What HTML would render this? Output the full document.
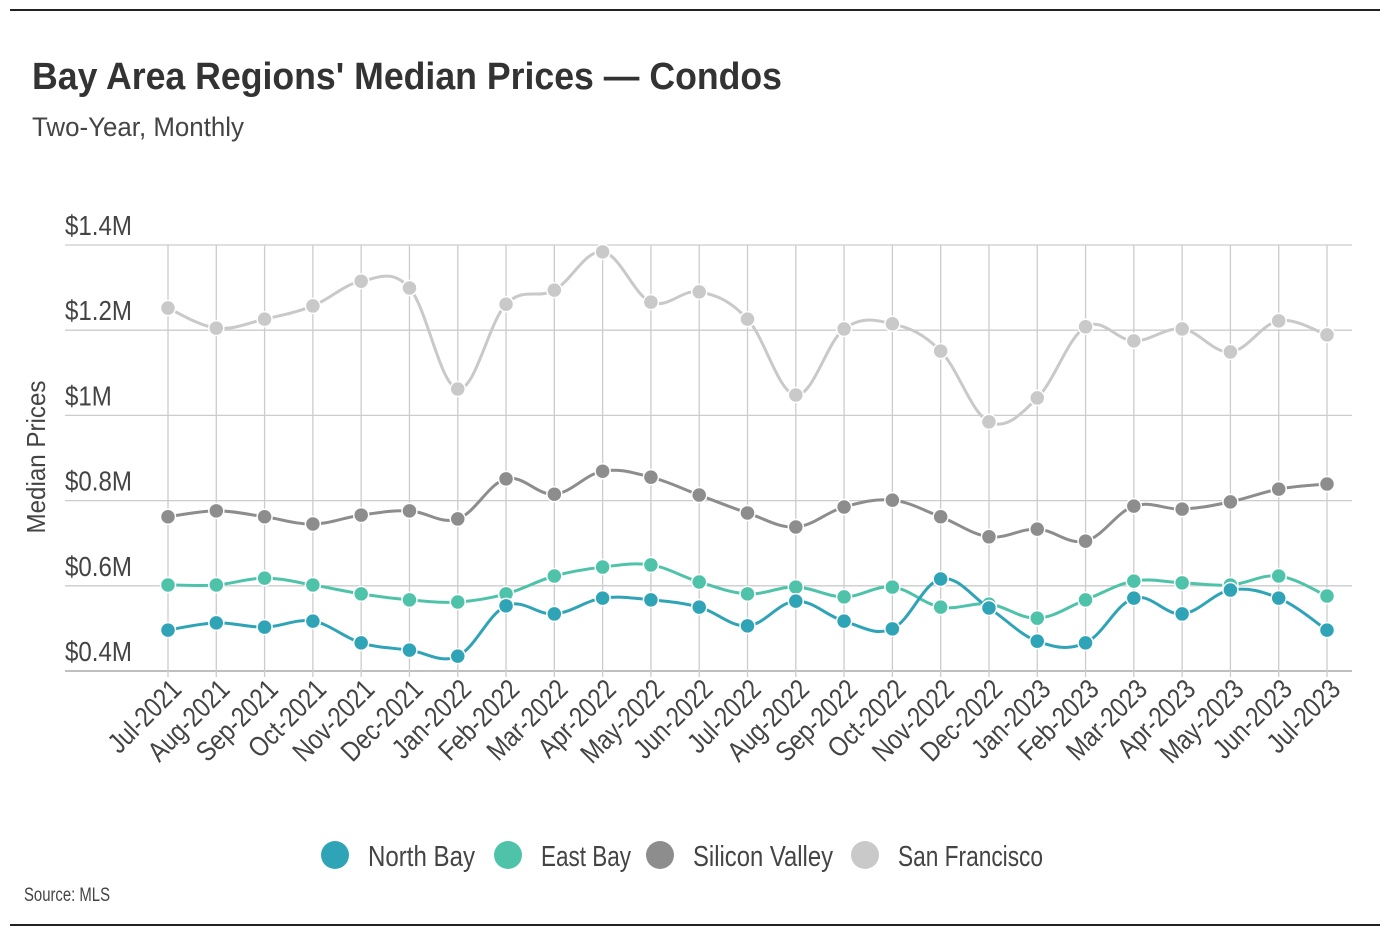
<!DOCTYPE html>
<html><head><meta charset="utf-8"><style>
body{margin:0;background:#fff;}
svg{display:block;font-family:"Liberation Sans Narrow","Liberation Sans",sans-serif;}
</style></head><body>
<svg width="1390" height="934" viewBox="0 0 1390 934">
<line x1="10" y1="10" x2="1380" y2="10" stroke="#222" stroke-width="2"/>
<line x1="10" y1="925" x2="1380" y2="925" stroke="#222" stroke-width="2"/>
<text x="32" y="89" font-size="38" font-weight="bold" fill="#333" textLength="750" lengthAdjust="spacingAndGlyphs">Bay Area Regions' Median Prices — Condos</text>
<text x="32" y="136" font-size="27" fill="#444" textLength="212" lengthAdjust="spacingAndGlyphs">Two-Year, Monthly</text>
<text transform="translate(45,457) rotate(-90)" text-anchor="middle" font-size="26" fill="#444" textLength="153" lengthAdjust="spacingAndGlyphs">Median Prices</text>
<text x="24" y="901" font-size="19" fill="#444" textLength="86" lengthAdjust="spacingAndGlyphs">Source:  MLS</text>
<g id="grid"></g><g id="series"></g><g id="xlabels"></g><g id="legend"></g>
</svg>
<script>
const categories=["Jul-2021","Aug-2021","Sep-2021","Oct-2021","Nov-2021","Dec-2021","Jan-2022","Feb-2022","Mar-2022","Apr-2022","May-2022","Jun-2022","Jul-2022","Aug-2022","Sep-2022","Oct-2022","Nov-2022","Dec-2022","Jan-2023","Feb-2023","Mar-2023","Apr-2023","May-2023","Jun-2023","Jul-2023"];
const northBay=[0.496,0.513,0.503,0.517,0.466,0.449,0.435,0.553,0.534,0.571,0.567,0.550,0.506,0.564,0.517,0.499,0.616,0.548,0.470,0.466,0.571,0.534,0.590,0.571,0.496];
const eastBay=[0.602,0.602,0.618,0.602,0.581,0.567,0.562,0.581,0.623,0.644,0.649,0.609,0.581,0.597,0.574,0.597,0.550,0.557,0.524,0.567,0.611,0.607,0.602,0.623,0.576];
const siliconValley=[0.762,0.776,0.762,0.745,0.766,0.776,0.757,0.851,0.815,0.869,0.855,0.813,0.771,0.738,0.785,0.801,0.762,0.715,0.733,0.705,0.787,0.780,0.797,0.827,0.839];
const sanFrancisco=[1.252,1.205,1.226,1.257,1.315,1.299,1.062,1.261,1.294,1.384,1.266,1.290,1.226,1.048,1.203,1.215,1.151,0.985,1.041,1.208,1.175,1.203,1.149,1.222,1.189];
const yTicks=[0.4,0.6,0.8,1.0,1.2,1.4];
const yTickLabels=["$0.4M","$0.6M","$0.8M","$1M","$1.2M","$1.4M"];
const seriesNames=["North Bay","East Bay","Silicon Valley","San Francisco"];
const seriesColors=["#2fa4b6","#4fc3aa","#8d8d8d","#c9c9c9"];
const NS="http://www.w3.org/2000/svg";
const X0=168,X1=1327,Y0=671,Y1=245,VMIN=0.4,VMAX=1.4;
function x(i){return X0+(X1-X0)*i/(categories.length-1);}
function y(v){return Y0-(v-VMIN)/(VMAX-VMIN)*(Y0-Y1);}
function mk(tag,attrs,parent){const e=document.createElementNS(NS,tag);for(const k in attrs)e.setAttribute(k,attrs[k]);parent.appendChild(e);return e;}
const grid=document.getElementById('grid');
yTicks.forEach((t,i)=>{
 const l=mk('line',{x1:65,x2:1352,y1:y(t),y2:y(t),stroke:i==0?'#999':'#ccc','stroke-width':1.3},grid);
 
 
 const tx=mk('text',{transform:`translate(65,${y(t)-10}) scale(0.86,1)`,'font-size':28,fill:'#444'},grid);
 tx.textContent=yTickLabels[i];
 
 
});
const xl=document.getElementById('xlabels');
categories.forEach((c,i)=>{
 const l=mk('line',{x1:x(i),x2:x(i),y1:Y1,y2:Y0+6,stroke:'#ccc','stroke-width':1.3},grid);
 
 
 const t=mk('text',{transform:`translate(${x(i)+15},${Y0+20}) rotate(-45) scale(0.84,1)`,'text-anchor':'end','font-size':28,fill:'#444'},xl);
 t.textContent=c;
 
 
});
function pathFor(vals){
 const p=vals.map((v,i)=>[x(i),y(v)]);
 let d=`M${p[0][0]},${p[0][1]}`;const k=0.18;
 for(let i=0;i<p.length-1;i++){
  const a=p[Math.max(i-1,0)],b=p[i],c=p[i+1],e=p[Math.min(i+2,p.length-1)];
  d+=` C${b[0]+(c[0]-a[0])*k},${b[1]+(c[1]-a[1])*k} ${c[0]-(e[0]-b[0])*k},${c[1]-(e[1]-b[1])*k} ${c[0]},${c[1]}`;
 }
 return d;
}
const sg=document.getElementById('series');
const allSeries=[northBay,eastBay,siliconValley,sanFrancisco];
for(let s=3;s>=0;s--){
 const g=mk('g',{},sg);
 
 
 const pth=mk('path',{d:pathFor(allSeries[s]),fill:'none',stroke:seriesColors[s],'stroke-width':3},g);
 
 
 allSeries[s].forEach((v,i)=>{
  const c=mk('circle',{cx:x(i),cy:y(v),r:7.5,fill:seriesColors[s],stroke:'#fff','stroke-width':1.5},g);
  
  
 });
}
const lg=document.getElementById('legend');
const lx=[335,508,660,865];
const lw=[107,90,140,145];
seriesNames.forEach((n,i)=>{
 const g=mk('g',{},lg);
 
 
 mk('circle',{cx:lx[i],cy:855,r:14,fill:seriesColors[i]},g);
 const t=mk('text',{x:lx[i]+33,y:866,'font-size':29,fill:'#444',textLength:lw[i],lengthAdjust:'spacingAndGlyphs'},g);
 t.textContent=n;
});
</script>
</body></html>
